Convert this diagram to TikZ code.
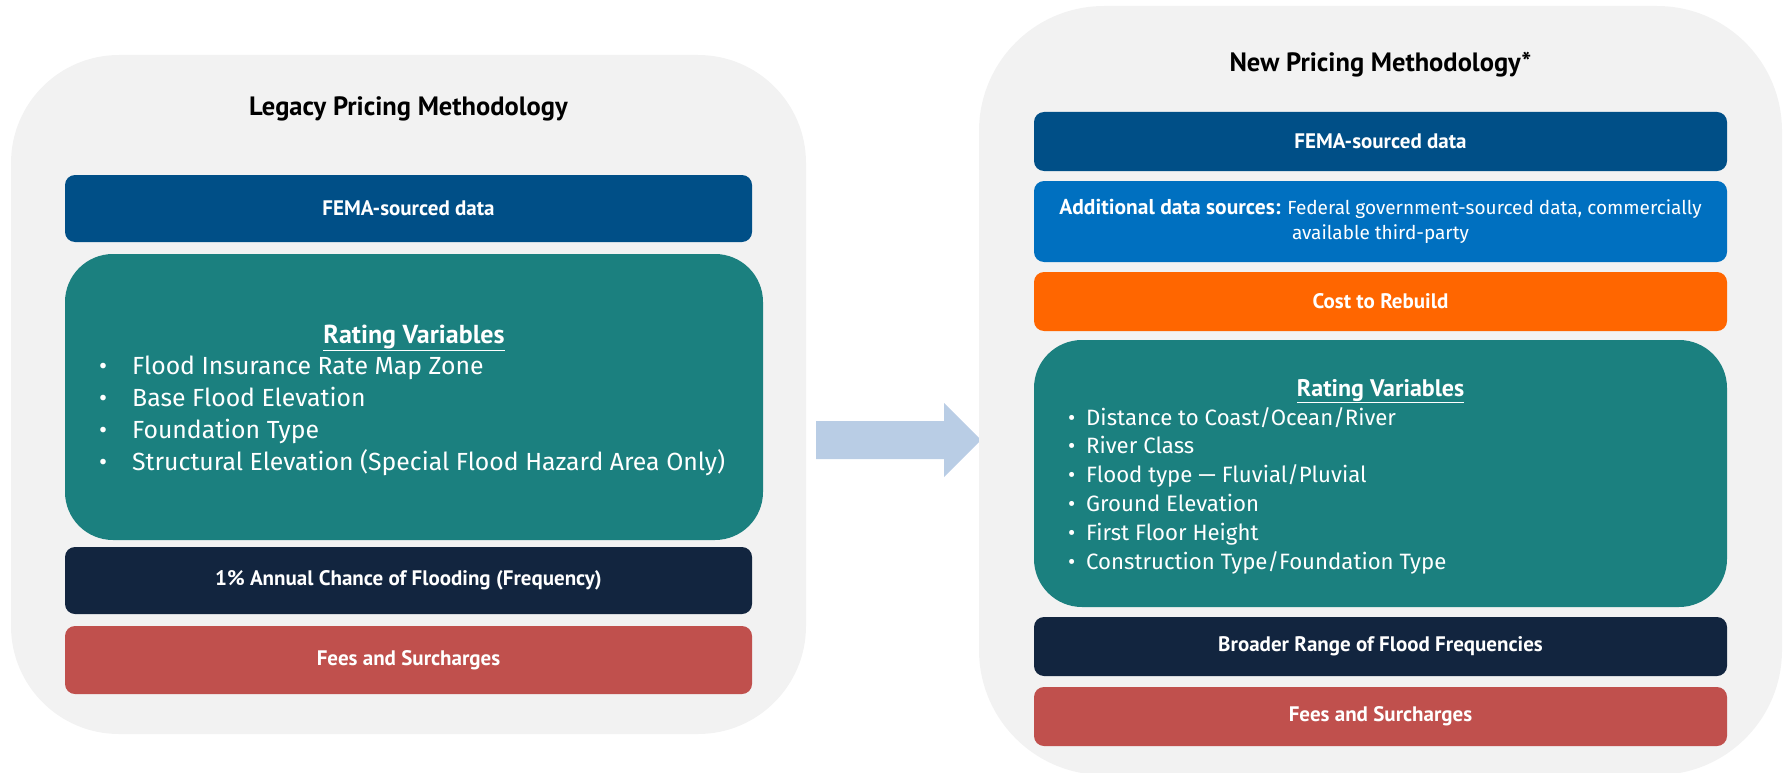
\documentclass[tikz,border=0pt]{standalone}
\usepackage{fontspec}
\setmainfont{Fira Sans}
\newfontfamily\headfont{PT Sans}
\usetikzlibrary{positioning}

\definecolor{panelgray}{HTML}{F2F2F2}
\definecolor{femablue}{HTML}{004F87}
\definecolor{extrablue}{HTML}{0070C0}
\definecolor{rebuildorange}{HTML}{FF6600}
\definecolor{ratingteal}{HTML}{1B807F}
\definecolor{freqnavy}{HTML}{12253F}
\definecolor{feesred}{HTML}{C0504D}
\definecolor{arrowblue}{HTML}{B9CDE5}

\newcommand{\methfont}{\headfont\bfseries\fontsize{26.5}{32}\selectfont}
\newcommand{\barfont}{\headfont\bfseries\fontsize{21}{25}\selectfont}
\newcommand{\addfont}{\fontsize{19}{25}\selectfont}

\begin{document}
\begin{tikzpicture}[x=1pt,y=-1pt,
  panel/.style={fill=panelgray, rounded corners=#1, inner sep=0pt},
  bar/.style={fill=#1, rounded corners=10pt, inner sep=0pt, text=white,
    font=\barfont, align=center},
  rating/.style={fill=ratingteal, rounded corners=48pt, inner sep=0pt},
  methtitle/.style={font=\methfont, inner sep=0pt, anchor=base},
  ratinghead/.style={text=white, inner sep=0pt, anchor=base,
    font=\headfont\bfseries\fontsize{#1}{#1}\selectfont},
  bulletline/.style={text=white, inner sep=0pt, anchor=base west,
    font=\fontsize{#1}{#1}\selectfont}]
\useasboundingbox (0,0) rectangle (1785,773);

% the two methodology panels and the block arrow between them
\node[panel=108pt, minimum width=795pt, minimum height=679pt] (legacy) at (408.5,394.5) {};
\fill[arrowblue] (816,421) -- (944,421) -- (944,403) -- (981,440)
  -- (944,477) -- (944,459) -- (816,459) -- cycle;
\node[panel=125pt, minimum width=803pt, minimum height=769pt] (new) at (1380.5,390.5) {};

\node[methtitle] (legacytitle) at (408.5,116) {Legacy Pricing Methodology};
\node[methtitle] (newtitle) at (1380.5,72) {New Pricing Methodology*};

% legacy stack
\node[bar=femablue, minimum width=687pt, minimum height=67pt] (lfema) at (408.5,208.5) {FEMA-sourced data};
\node[rating, minimum width=698pt, minimum height=286pt] (lrating) at (414,397) {};
\node[bar=freqnavy, minimum width=687pt, minimum height=67pt] (lfreq) at (408.5,580.5) {1\% Annual Chance of Flooding (Frequency)};
\node[bar=feesred, minimum width=687pt, minimum height=68pt] (lfees) at (408.5,660) {Fees and Surcharges};

\node[ratinghead=26] (lratinghead) at (414,343) {\underline{Rating Variables}};
\foreach \var [count=\i] in {Flood Insurance Rate Map Zone, Base Flood Elevation,
    Foundation Type, Structural Elevation (Special Flood Hazard Area Only)}
  \node[bulletline=24.8] (litem\i) at (99,342+32*\i) {\makebox[33pt][l]{\textbullet}\var};

% new stack
\node[bar=femablue, minimum width=693pt, minimum height=59pt] (nfema) at (1380.5,141.5) {FEMA-sourced data};
\node[bar=extrablue, minimum width=693pt, minimum height=81pt, font=\addfont] (nextra) at (1380.5,221.5)
  {{\headfont\bfseries\fontsize{21.5}{25}\selectfont Additional data sources:} Federal government-sourced data, commercially\\available third-party};
\node[bar=rebuildorange, minimum width=693pt, minimum height=59pt] (nrebuild) at (1380.5,301.5) {Cost to Rebuild};
\node[rating, minimum width=693pt, minimum height=267pt] (nrating) at (1380.5,473.5) {};
\node[bar=freqnavy, minimum width=693pt, minimum height=59pt] (nfreq) at (1380.5,646.5) {Broader Range of Flood Frequencies};
\node[bar=feesred, minimum width=693pt, minimum height=59pt] (nfees) at (1380.5,716.5) {Fees and Surcharges};

\node[ratinghead=24] (nratinghead) at (1380.5,396) {\underline{Rating Variables}};
\foreach \var [count=\i] in {Distance to Coast/Ocean/River, River Class,
    Flood type --- Fluvial/Pluvial, Ground Elevation, First Floor Height,
    Construction Type/Foundation Type}
  \node[bulletline=22.2] (nitem\i) at (1068,396.2+28.8*\i) {\makebox[18pt][l]{\textbullet}\var};
\end{tikzpicture}
\end{document}
